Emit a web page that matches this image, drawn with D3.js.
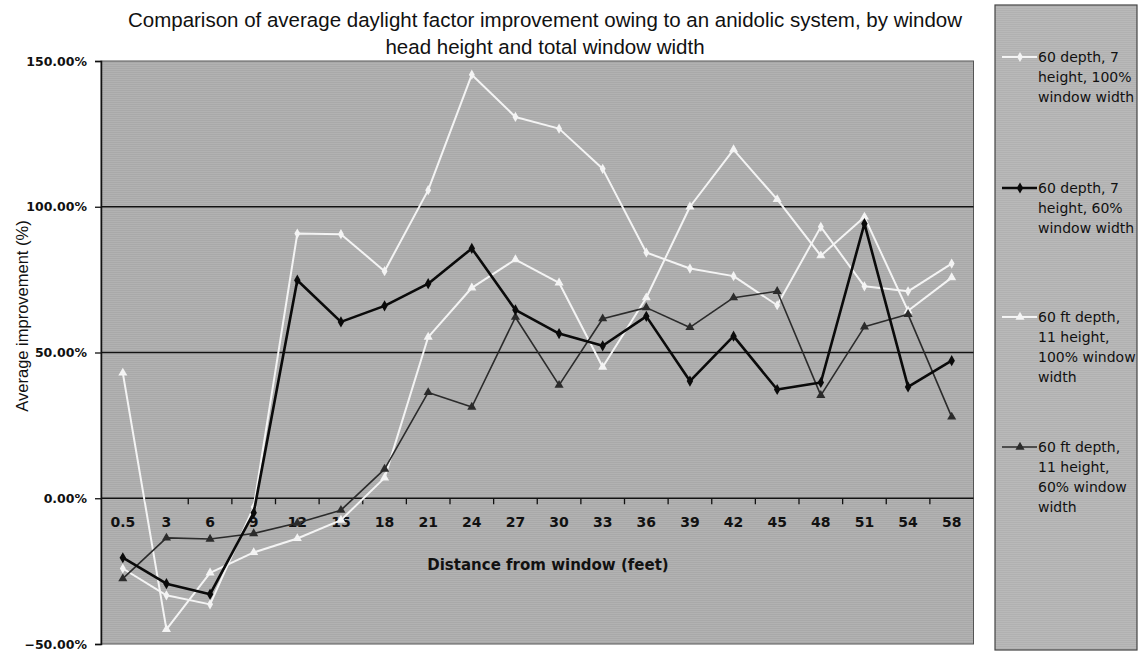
<!DOCTYPE html>
<html>
  <head>
    <title>Average daylight factor improvement - anidolic system</title>
    <meta charset="UTF-8">
    <style>
      body { margin: 0; background: #ffffff; }
      svg { display: block; }
    </style>
  </head>
  <body>

    <svg></svg>

    <script src="https://d3js.org/d3.v7.min.js"></script>
    <script>

/* DATA */

// distance from window (feet)
var distances = ["0.5", "3", "6", "9", "12", "15", "18", "21", "24", "27",
                 "30", "33", "36", "39", "42", "45", "48", "51", "54", "58"];

// 60 depth, 7 height, 100% window width
var depth60h7w100 = [-24.1, -33.3, -36.4, -3, 90.8, 90.6, 77.9, 105.7, 145.3, 130.8,
                     126.8, 113, 84.3, 78.8, 76.2, 66.2, 93.1, 72.7, 71, 80.5];

// 60 depth, 7 height, 60% window width
var depth60h7w60 = [-20.4, -29.3, -32.9, -5, 74.8, 60.5, 66, 73.6, 85.7, 64.6,
                    56.5, 52.3, 62.4, 40.2, 55.6, 37.3, 39.7, 94.2, 38.2, 47.2];

// 60 ft depth, 11 height, 100% window width
var depth60h11w100 = [43, -45, -25.6, -18.6, -13.8, -7.5, 7, 55.3, 72.2, 81.9,
                      73.9, 45, 68.8, 100, 119.6, 102.5, 83.2, 96.5, 64.3, 75.7];

// 60 ft depth, 11 height, 60% window width
var depth60h11w60 = [-27.6, -13.6, -14, -12.1, -8.5, -4.1, 10, 36.3, 31.3, 62.1,
                     38.8, 61.6, 65.4, 58.6, 68.8, 71, 35.3, 58.8, 63.1, 27.9];

var yTicks = [-50, 0, 50, 100, 150];
var gridValues = [50, 100];

var seriesNames = [
  ["60 depth, 7", "height, 100%", "window width"],
  ["60 depth, 7", "height, 60%", "window width"],
  ["60 ft depth,", "11 height,", "100% window", "width"],
  ["60 ft depth,", "11 height,", "60% window", "width"]
];

var config = {
  "width": 1140,
  "height": 653,
  "plot": { "left": 101, "right": 973.5, "top": 61, "bottom": 644 },
  "legend": { "x": 995, "y": 5, "w": 142, "h": 645, "rows": [57, 188, 317, 447] }
};

// line + marker styling per series
var styles = [
  { "stroke": "#f4f4f4", "width": 2, "marker": d3.symbolDiamond, "size": 30, "fill": "#f4f4f4" },
  { "stroke": "#0a0a0a", "width": 2.6, "marker": d3.symbolDiamond, "size": 36, "fill": "#0a0a0a" },
  { "stroke": "#f4f4f4", "width": 2, "marker": d3.symbolTriangle, "size": 36, "fill": "#f4f4f4" },
  { "stroke": "#2b2b2b", "width": 1.6, "marker": d3.symbolTriangle, "size": 36, "fill": "#2b2b2b" }
];

var series = [depth60h7w100, depth60h7w60, depth60h11w100, depth60h11w60];

/* SETUP */
var svg = d3.select("svg")
  .attr("width", config.width)
  .attr("height", config.height);

var p = config.plot;

var x = d3.scaleBand()
  .domain(distances)
  .range([p.left, p.right]);

var y = d3.scaleLinear()
  .domain([-50, 150])
  .range([p.bottom, p.top]);

// halftone-ish texture like the scanned chart
var defs = svg.append("defs");
var pat = defs.append("pattern")
  .attr("id", "scan")
  .attr("width", 4).attr("height", 2)
  .attr("patternUnits", "userSpaceOnUse");
pat.append("rect").attr("width", 4).attr("height", 2).attr("fill", "#b2b2b2");
pat.append("rect").attr("width", 4).attr("height", 1).attr("fill", "#a9a9a9");

var pat2 = defs.append("pattern")
  .attr("id", "scan2")
  .attr("width", 4).attr("height", 2)
  .attr("patternUnits", "userSpaceOnUse");
pat2.append("rect").attr("width", 4).attr("height", 2).attr("fill", "#b9b9b9");
pat2.append("rect").attr("width", 4).attr("height", 1).attr("fill", "#b1b1b1");

// plot area
svg.append("rect")
  .attr("x", p.left)
  .attr("y", p.top)
  .attr("width", p.right - p.left)
  .attr("height", p.bottom - p.top)
  .attr("fill", "url(#scan)")
  .attr("stroke", "#555")
  .attr("stroke-width", 1);

// horizontal gridlines
svg.append("g")
  .selectAll("line")
  .data(gridValues)
  .enter().append("line")
    .attr("x1", p.left)
    .attr("x2", p.right)
    .attr("y1", function(d) { return y(d); })
    .attr("y2", function(d) { return y(d); })
    .attr("stroke", "#111")
    .attr("stroke-width", 1.5);

/* Y AXIS */
var yAxis = svg.append("g")
  .attr("transform", "translate(" + p.left + ",0)")
  .call(d3.axisLeft(y)
    .tickValues(yTicks)
    .tickSize(6)
    .tickPadding(8)
    .tickFormat(function(d) { return d3.format(".2f")(d) + "%"; }));

yAxis.select(".domain").attr("stroke", "#111").attr("stroke-width", 1.5);
yAxis.selectAll(".tick line").attr("stroke", "#111").attr("stroke-width", 1.3);
yAxis.selectAll("text")
  .attr("font-family", "DejaVu Sans")
  .attr("font-weight", "bold")
  .attr("font-size", 12.5)
  .attr("fill", "#111");

svg.append("text")
  .attr("transform", "translate(28," + 316 + ") rotate(-90)")
  .attr("text-anchor", "middle")
  .attr("font-family", "Liberation Sans")
  .attr("font-size", 16.5)
  .attr("fill", "#111")
  .text("Average improvement (%)");

/* X AXIS (sits on the 0% line, ticks between categories) */
var xAxisY = y(0);

svg.append("line")
  .attr("x1", p.left).attr("x2", p.right)
  .attr("y1", xAxisY).attr("y2", xAxisY)
  .attr("stroke", "#111")
  .attr("stroke-width", 1.5);

var boundaries = distances.slice(1).map(function(d) { return x(d); });

svg.append("g")
  .selectAll("line")
  .data(boundaries)
  .enter().append("line")
    .attr("x1", function(d) { return d; })
    .attr("x2", function(d) { return d; })
    .attr("y1", xAxisY)
    .attr("y2", xAxisY + 6)
    .attr("stroke", "#111")
    .attr("stroke-width", 1.3);

svg.append("g")
  .selectAll("text")
  .data(distances)
  .enter().append("text")
    .attr("x", function(d) { return x(d) + x.bandwidth() / 2; })
    .attr("y", xAxisY + 29)
    .attr("text-anchor", "middle")
    .attr("font-family", "DejaVu Sans")
    .attr("font-weight", "bold")
    .attr("font-size", 14)
    .attr("fill", "#111")
    .text(function(d) { return d; });

svg.append("text")
  .attr("x", 548)
  .attr("y", 570)
  .attr("text-anchor", "middle")
  .attr("font-family", "DejaVu Sans")
  .attr("font-weight", "bold")
  .attr("font-size", 15)
  .attr("fill", "#111")
  .text("Distance from window (feet)");

/* LINES */
var line = d3.line()
  .x(function(d, i) { return x(distances[i]) + x.bandwidth() / 2; })
  .y(function(d) { return y(d); });

// draw dark series last-ish so the order matches the original stacking
var drawOrder = [0, 2, 3, 1];

drawOrder.forEach(function(s) {
  var st = styles[s];
  var g = svg.append("g").attr("class", "series-" + s);

  g.append("path")
    .datum(series[s])
    .attr("fill", "none")
    .attr("stroke", st.stroke)
    .attr("stroke-width", st.width)
    .attr("stroke-linejoin", "round")
    .attr("d", line);

  g.selectAll("path.mark")
    .data(series[s])
    .enter().append("path")
      .attr("class", "mark")
      .attr("transform", function(d, i) {
        return "translate(" + (x(distances[i]) + x.bandwidth() / 2) + "," + y(d) + ")";
      })
      .attr("d", d3.symbol().type(st.marker).size(st.size))
      .attr("fill", st.fill);
});

/* TITLE */
var title = svg.append("text")
  .attr("text-anchor", "middle")
  .attr("font-family", "Liberation Sans")
  .attr("font-size", 20.5)
  .attr("fill", "#111");

title.append("tspan")
  .attr("x", 545).attr("y", 27)
  .text("Comparison of average daylight factor improvement owing to an anidolic system, by window");
title.append("tspan")
  .attr("x", 545).attr("y", 54)
  .text("head height and total window width");

/* LEGEND */
var lg = config.legend;

svg.append("rect")
  .attr("x", lg.x)
  .attr("y", lg.y)
  .attr("width", lg.w)
  .attr("height", lg.h)
  .attr("fill", "url(#scan2)")
  .attr("stroke", "#444")
  .attr("stroke-width", 1.2);

var items = svg.append("g")
  .selectAll("g")
  .data(seriesNames)
  .enter().append("g")
    .attr("transform", function(d, i) { return "translate(" + lg.x + "," + lg.rows[i] + ")"; });

items.append("line")
  .attr("x1", 7).attr("x2", 42)
  .attr("y1", 0).attr("y2", 0)
  .attr("stroke", function(d, i) { return styles[i].stroke; })
  .attr("stroke-width", function(d, i) { return styles[i].width; });

items.append("path")
  .attr("transform", "translate(25,0)")
  .attr("d", function(d, i) { return d3.symbol().type(styles[i].marker).size(styles[i].size)(); })
  .attr("fill", function(d, i) { return styles[i].fill; });

items.append("text")
  .attr("font-family", "DejaVu Sans")
  .attr("font-size", 14)
  .attr("fill", "#111")
  .selectAll("tspan")
  .data(function(d) { return d; })
  .enter().append("tspan")
    .attr("x", 43)
    .attr("y", function(d, i) { return i * 20 + 5; })
    .text(function(d) { return d; });

    </script>
  </body>
</html>
